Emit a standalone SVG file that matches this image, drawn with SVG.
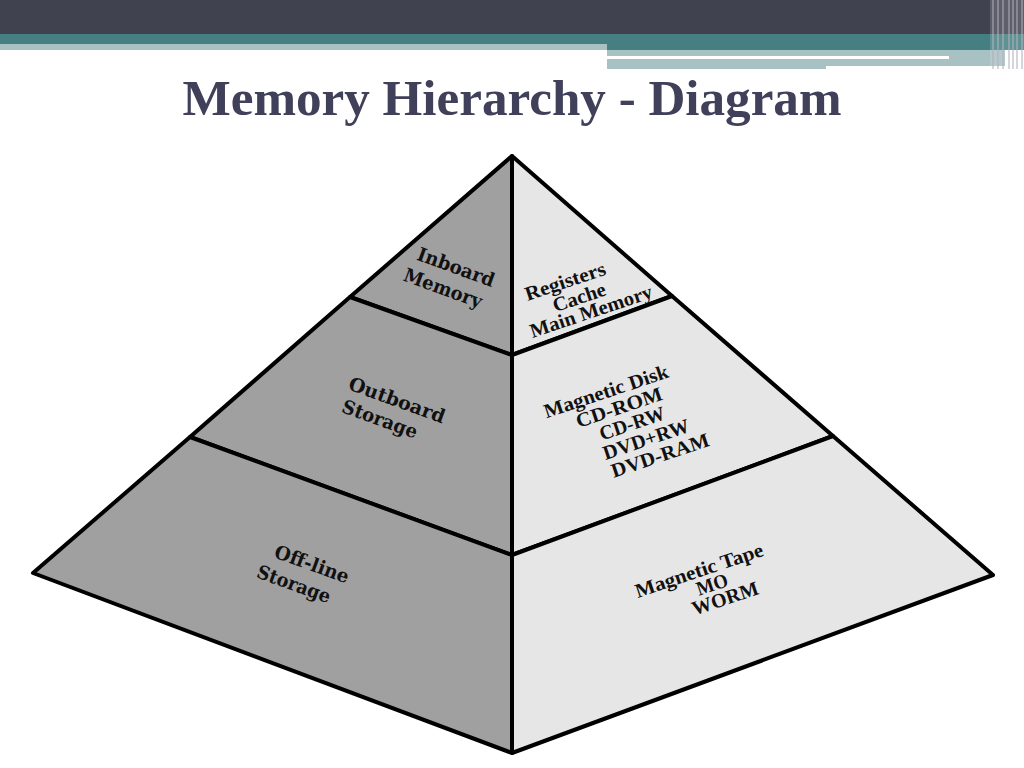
<svg xmlns="http://www.w3.org/2000/svg" width="1024" height="768" viewBox="0 0 1024 768">
<style>
.lf{fill:#a0a0a0;stroke:#000;stroke-width:4;stroke-linejoin:round}
.rf{fill:#e6e6e6;stroke:#000;stroke-width:4;stroke-linejoin:round}
.lt{font-family:"DejaVu Serif","Liberation Serif",serif;font-weight:bold;font-size:19px;fill:#111;text-anchor:middle}
.rt{font-family:"Liberation Serif","Times New Roman",serif;font-weight:bold;font-size:20px;fill:#111;text-anchor:middle}
.title{font-family:"Liberation Serif","Times New Roman",serif;font-weight:bold;font-size:50px;fill:#40405a;text-anchor:middle}
.vl{stroke:#b0b0bc;stroke-width:1.5;opacity:0.7}
</style>
<rect width="1024" height="768" fill="#ffffff"/>
<g id="header">
<rect x="0" y="0" width="1024" height="34" fill="#41424f"/>
<rect x="0" y="34" width="607" height="10" fill="#457f82"/>
<rect x="0" y="44" width="607" height="6" fill="#a8c1c3"/>
<rect x="607" y="34" width="417" height="16" fill="#457f82"/>
<rect x="607" y="50" width="398" height="16" fill="#a8c1c3"/>
<rect x="607" y="66" width="219" height="3" fill="#a8c1c3"/>
<rect x="607" y="56" width="342" height="3" fill="#ffffff"/>
<rect x="990" y="0" width="34" height="69" fill="#ffffff" opacity="0.15"/>
<line class="vl" x1="993" y1="0" x2="993" y2="69"/>
<line class="vl" x1="998" y1="0" x2="998" y2="69"/>
<line class="vl" x1="1003" y1="0" x2="1003" y2="69"/>
<line class="vl" x1="1009" y1="0" x2="1009" y2="69"/>
<line class="vl" x1="1013" y1="0" x2="1013" y2="69"/>
<line class="vl" x1="1017" y1="0" x2="1017" y2="69"/>
<line class="vl" x1="1022" y1="0" x2="1022" y2="69"/>
</g>
<text class="title" x="512" y="115" textLength="659" lengthAdjust="spacingAndGlyphs">Memory Hierarchy - Diagram</text>
<g id="inboard-memory">
<polygon class="lf" points="512,156 350,297 512,355"/>
<text class="lt" transform="translate(456,267) rotate(20)" dy="0.35em" textLength="81" lengthAdjust="spacingAndGlyphs">Inboard</text>
<text class="lt" transform="translate(443,288) rotate(20)" dy="0.35em" textLength="82" lengthAdjust="spacingAndGlyphs">Memory</text>
</g>
<g id="outboard-storage">
<polygon class="lf" points="350,297 190,437 512,555 512,355"/>
<text class="lt" transform="translate(397,400) rotate(20)" dy="0.35em" textLength="101" lengthAdjust="spacingAndGlyphs">Outboard</text>
<text class="lt" transform="translate(380,419) rotate(20)" dy="0.35em" textLength="79" lengthAdjust="spacingAndGlyphs">Storage</text>
</g>
<g id="offline-storage">
<polygon class="lf" points="190,437 33,573 512,753 512,555"/>
<text class="lt" transform="translate(312,564) rotate(20)" dy="0.35em" textLength="78" lengthAdjust="spacingAndGlyphs">Off-line</text>
<text class="lt" transform="translate(294,584) rotate(20)" dy="0.35em" textLength="77" lengthAdjust="spacingAndGlyphs">Storage</text>
</g>
<g id="inboard-examples">
<polygon class="rf" points="512,156 512,355 672,296"/>
<text class="rt" transform="translate(565,281) rotate(-18.5)" dy="0.35em" textLength="84" lengthAdjust="spacingAndGlyphs">Registers</text>
<text class="rt" transform="translate(579,297) rotate(-18.5)" dy="0.35em" textLength="55" lengthAdjust="spacingAndGlyphs">Cache</text>
<text class="rt" transform="translate(591,311) rotate(-18.5)" dy="0.35em" textLength="128" lengthAdjust="spacingAndGlyphs">Main Memory</text>
</g>
<g id="outboard-examples">
<polygon class="rf" points="512,355 512,555 833,436 672,296"/>
<text class="rt" transform="translate(606,391) rotate(-18.5)" dy="0.35em" textLength="130" lengthAdjust="spacingAndGlyphs">Magnetic Disk</text>
<text class="rt" transform="translate(619,407) rotate(-18.5)" dy="0.35em" textLength="90" lengthAdjust="spacingAndGlyphs">CD-ROM</text>
<text class="rt" transform="translate(632,423) rotate(-18.5)" dy="0.35em" textLength="68" lengthAdjust="spacingAndGlyphs">CD-RW</text>
<text class="rt" transform="translate(646,439) rotate(-18.5)" dy="0.35em" textLength="90" lengthAdjust="spacingAndGlyphs">DVD+RW</text>
<text class="rt" transform="translate(660,455) rotate(-18.5)" dy="0.35em" textLength="102" lengthAdjust="spacingAndGlyphs">DVD-RAM</text>
</g>
<g id="offline-examples">
<polygon class="rf" points="512,555 512,753 993,575 833,436"/>
<text class="rt" transform="translate(699,570) rotate(-18.5)" dy="0.35em" textLength="134" lengthAdjust="spacingAndGlyphs">Magnetic Tape</text>
<text class="rt" transform="translate(712,584) rotate(-18.5)" dy="0.35em" textLength="32" lengthAdjust="spacingAndGlyphs">MO</text>
<text class="rt" transform="translate(725,598) rotate(-18.5)" dy="0.35em" textLength="69" lengthAdjust="spacingAndGlyphs">WORM</text>
</g>
<g id="connectors"/>
</svg>
